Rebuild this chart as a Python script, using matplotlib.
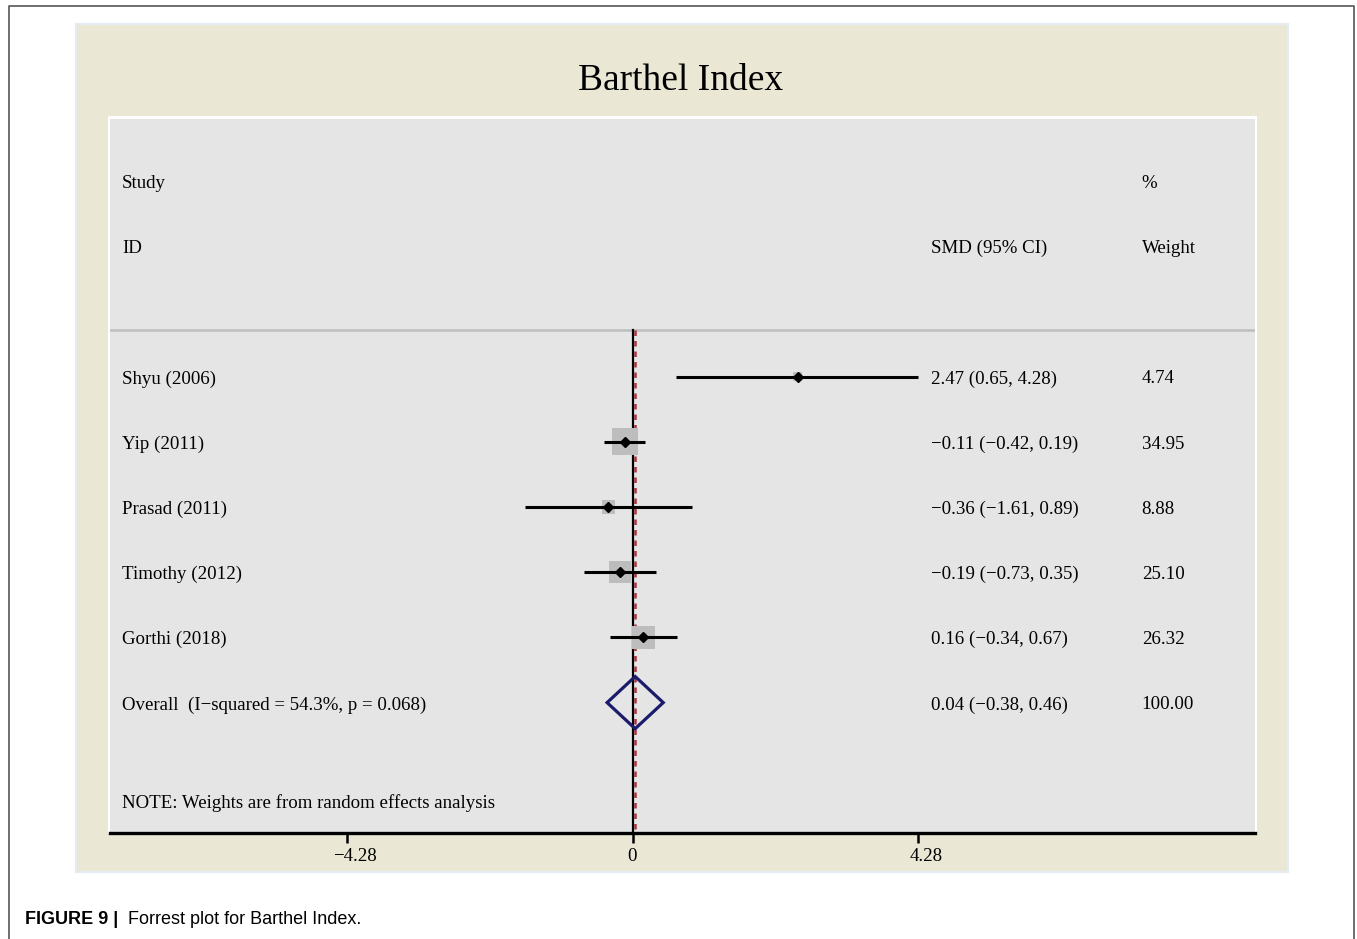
import numpy as np
import matplotlib.pyplot as plt
from matplotlib.patches import Rectangle, Polygon
from matplotlib.transforms import blended_transform_factory, ScaledTranslation

# study data ----------------------------------------
studies = ['Shyu (2006)', 'Yip (2011)', 'Prasad (2011)', 'Timothy (2012)', 'Gorthi (2018)']
smd = np.array([2.47, -0.11, -0.36, -0.19, 0.16])
ci_lo = np.array([0.65, -0.42, -1.61, -0.73, -0.34])
ci_hi = np.array([4.28, 0.19, 0.89, 0.35, 0.67])
weights = np.array([4.74, 34.95, 8.88, 25.10, 26.32])

overall_label = 'Overall  (I\u2212squared = 54.3%, p = 0.068)'
overall = [0.04, -0.38, 0.46]
overall_weight = 100.00

xticks = [-4.28, 0, 4.28]


def fmt(v):
    return f'{v:.2f}'.replace('-', '\u2212')


W, H = 1357, 939
fig = plt.figure(figsize=(W / 100, H / 100), dpi=100)
plt.rcParams['font.family'] = ['Liberation Serif', 'DejaVu Serif']

# outer frame (open at the bottom) and beige graph region
fig.add_artist(plt.Line2D([9 / W, 9 / W, 1354 / W, 1354 / W],
                          [0, 1 - 6 / H, 1 - 6 / H, 0],
                          color='#555555', lw=1.2, transform=fig.transFigure))
fig.add_artist(Rectangle((76 / W, 1 - 872 / H), (1288 - 76) / W, (872 - 24) / H,
                         facecolor='#EAE8D5', edgecolor='#E4EBF2', lw=1.5,
                         transform=fig.transFigure))
fig.add_artist(Rectangle((108 / W, 1 - 833 / H), (1257 - 108) / W, (833 - 116) / H,
                         facecolor='white', edgecolor='none', transform=fig.transFigure))

fig.text(681 / W, 1 - 81 / H, 'Barthel Index', ha='center', va='center', fontsize=27)

ax = fig.add_axes([110 / W, 1 - 833 / H, (1255 - 110) / W, (833 - 119) / H])
ax.set_zorder(5)
ax.set_facecolor('#E5E5E5')

x0, scale = 632.5, 66.82
ax.set_xlim((110 - x0) / scale, (1255 - x0) / scale)
ax.set_ylim(7.0, -3.95)

rows = np.arange(len(studies))
row_ov = len(studies)
tr = blended_transform_factory(ax.transAxes, ax.transData)
fs = 13.6
dy = 0.035  # nudge text onto the row centre


def row_text(x, y, s):
    ax.text(x, y + dy, s, transform=tr, va='center', fontsize=fs)


# headers
row_text(0.0105, -3, 'Study')
row_text(0.0105, -2, 'ID')
row_text(0.717, -2, 'SMD (95% CI)')
row_text(0.901, -3, '%')
row_text(0.901, -2, 'Weight')
ax.axhline(-0.72, color='#BEBEBE', lw=1.8)

# reference lines: no effect and overall estimate
ax.plot([0, 0], [-0.72, 7.0], color='black', lw=1.6, zorder=2)
ax.plot([overall[0], overall[0]], [-0.72, 7.0], color='#A8323E', lw=1.8,
        ls=(0, (2.2, 2.0)), zorder=2)

# study rows
ax.scatter(smd, rows, s=10.5 * weights, marker='s', color='#BDBDBD',
           edgecolors='none', zorder=3)
ax.hlines(rows, ci_lo, ci_hi, color='black', lw=2.2, zorder=4)
ax.plot(smd, rows, 'D', color='black', ms=4.6, zorder=5)

for i, name in enumerate(studies):
    row_text(0.0105, i, name)
    row_text(0.717, i, f'{fmt(smd[i])} ({fmt(ci_lo[i])}, {fmt(ci_hi[i])})')
    row_text(0.901, i, f'{weights[i]:.2f}')

# overall diamond
est, lo, hi = overall
ax.add_patch(Polygon([[lo, row_ov], [est, row_ov - 0.4], [hi, row_ov], [est, row_ov + 0.4]],
                     closed=True, fill=False, edgecolor='#1B1B6B', lw=2.3, zorder=5))
row_text(0.0105, row_ov, overall_label)
row_text(0.717, row_ov, f'{fmt(est)} ({fmt(lo)}, {fmt(hi)})')
row_text(0.901, row_ov, f'{overall_weight:.2f}')

row_text(0.0105, 6.5, 'NOTE: Weights are from random effects analysis')

# axis
for side in ['top', 'left', 'right']:
    ax.spines[side].set_visible(False)
ax.spines['bottom'].set_linewidth(2.4)
ax.set_yticks([])
ax.set_xticks(xticks)
ax.set_xticklabels([fmt(t) if t != 0 else '0' for t in xticks])
ax.tick_params(axis='x', direction='out', length=7, width=1.8, labelsize=fs, pad=4)
for t, lab in zip(xticks, ax.get_xticklabels()):
    if t != 0:
        lab.set_transform(lab.get_transform() + ScaledTranslation(8 / 100, 0, fig.dpi_scale_trans))

# caption
fig.text(25 / W, 1 - 919 / H, 'FIGURE 9 |', fontsize=13, fontweight='bold',
         family='Liberation Sans', va='center')
fig.text(128 / W, 1 - 919 / H, 'Forrest plot for Barthel Index.', fontsize=13,
         family='Liberation Sans', va='center')

fig.savefig('out.png', dpi=100)
